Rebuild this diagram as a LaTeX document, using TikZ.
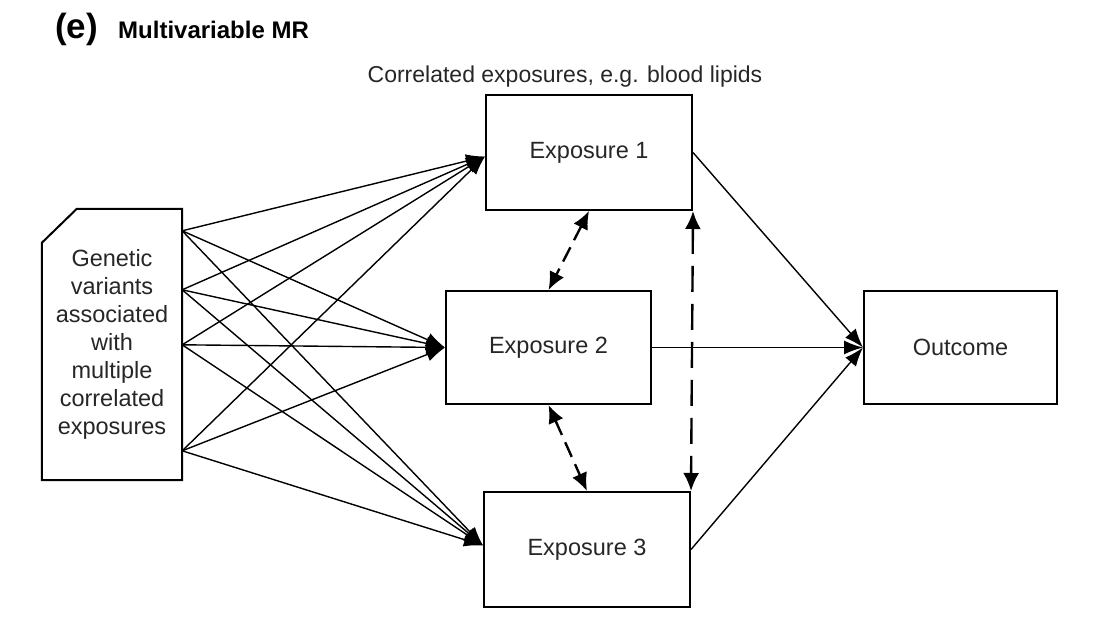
\documentclass[tikz,border=0pt]{standalone}
\usepackage{fontspec}
\setmainfont{Liberation Sans}
\usetikzlibrary{arrows.meta,calc}
\begin{document}
\begin{tikzpicture}[x=1pt,y=-1pt,
  txt/.style={font=\fontsize{23.5}{28}\selectfont, text=black!85},
  box/.style={draw, line width=2pt, txt, inner sep=0pt, minimum width=206pt, minimum height=115pt},
  link/.style={line width=1.4pt, -{Latex[length=19pt,width=14pt]}},
  corr/.style={line width=2.4pt, dash pattern=on 16pt off 8pt, {Latex[length=18pt,width=16pt]}-{Latex[length=18pt,width=16pt]}},
  vcorr/.style={line width=2.4pt, dash pattern=on 26pt off 12pt, {Latex[length=18pt,width=16pt]}-{Latex[length=18pt,width=16pt]}}
]
\useasboundingbox (0,0) rectangle (1115,618);

% title
\node[anchor=base west, inner sep=0pt, font=\fontsize{35}{40}\selectfont\bfseries] (lab) at (55,38) {(e)};
\node[anchor=base west, inner sep=0pt, font=\fontsize{24}{28}\selectfont\bfseries] (ttl) at (118,38) {Multivariable MR};
\node[anchor=base, inner sep=0pt, txt, font=\fontsize{23}{26}\selectfont] (cap) at (565,82) {Correlated exposures, e.g. blood lipids};

% genetic variants node
\node[txt, align=center, inner sep=0pt, minimum width=140pt, minimum height=271pt] (gen) at (112,344.5)
  {\raisebox{-3pt}{\parbox{140pt}{\centering Genetic\\variants\\associated\\with\\multiple\\correlated\\exposures}}};
\draw[line width=2pt] (gen.south west) -- ($(gen.north west)+(0,34)$) -- ($(gen.north west)+(35,0)$)
  -- (gen.north east) -- (gen.south east) -- cycle;

\coordinate (g1) at ($(gen.north east)+(0,22)$);
\coordinate (g2) at ($(gen.north east)+(0,81)$);
\coordinate (g3) at ($(gen.north east)+(0,136)$);
\coordinate (g4) at ($(gen.north east)+(0,242)$);

% exposures
\node[box] (e1) at (589,152.5) {Exposure 1};
\node[box, minimum width=205pt, minimum height=113pt] (e2) at (548.5,347.5) {Exposure 2};
\node[box] (e3) at (587,549.5) {Exposure 3};
\node[box, minimum width=193pt, minimum height=113pt] (out) at (960.5,347.5) {Outcome};

\coordinate (t1) at ($(e1.west)+(0,4)$);
\coordinate (t2) at (e2.west);
\coordinate (t3) at ($(e3.west)+(0,-4)$);

\foreach \g in {g1,g2,g3,g4}{
  \draw[link] (\g) -- (t1);
  \draw[link] (\g) -- (t2);
  \draw[link] (\g) -- (t3);
}

\draw[link] (e1.east) -- (out.west);
\draw[link] (e2.east) -- (out.west);
\draw[link] (e3.east) -- (out.west);

% correlations
\draw[corr] (e1.south) -- (e2.north);
\draw[corr] (e2.south) -- (e3.north);
\draw[vcorr] (e1.south east) -- (e3.north east);
\end{tikzpicture}
\end{document}
